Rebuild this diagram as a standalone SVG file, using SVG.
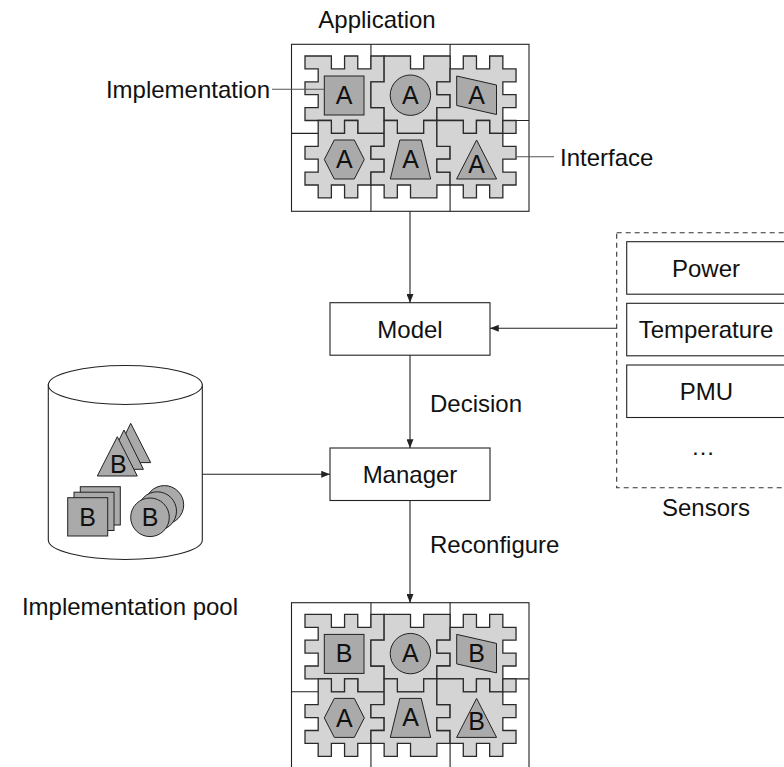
<svg xmlns="http://www.w3.org/2000/svg" xmlns:xlink="http://www.w3.org/1999/xlink" width="784" height="767" viewBox="0 0 784 767">
  <style>
    text { font-family: "Liberation Sans", Arial, sans-serif; font-size: 24px; fill: #111; }
    .mid { text-anchor: middle; }
    .letter { font-size: 25px; text-anchor: middle; }
    .box { fill: #fff; stroke: #222; stroke-width: 1.1; }
    .frame { fill: #fff; stroke: #222; stroke-width: 1.1; }
    .gridline { fill: none; stroke: #222; stroke-width: 1.1; }
    .piece { fill: #d4d4d4; stroke: #2a2a2a; stroke-width: 1.3; stroke-linejoin: miter; }
    .shape { fill: #aaaaaa; stroke: #222; stroke-width: 1; }
    .edge { fill: none; stroke: #222; stroke-width: 1.1; marker-end: url(#arrow); }
    .leader { fill: none; stroke: #555; stroke-width: 1.1; }
    .dashed { fill: none; stroke: #333; stroke-width: 1.1; stroke-dasharray: 5 4; }
  </style>
  <defs>
    <marker id="arrow" viewBox="0 0 10 8" refX="10" refY="4" markerWidth="9" markerHeight="7" markerUnits="userSpaceOnUse" orient="auto">
      <path d="M0,0 L10,4 L0,8 Z" fill="#222"/>
    </marker>
    <!-- tile frame and six interlocking jigsaw pieces; piece outlines are on a 16x11 cell grid -->
    <g id="puzzle">
      <rect class="frame" x="291.5" y="44.3" width="237.5" height="167"/>
      <path class="gridline" d="M370.95,44.3 V211.3 M450.09,44.3 V211.3 M291.5,133.4 H370.95 M450.09,120.5 H529"/>
      <g transform="translate(305,56) scale(13.19,12.9)">
        <path class="piece" vector-effect="non-scaling-stroke" d="M0,0 H2 V1 H3 V0 H4 V1 H5 V0 H6 V2 H5 V4 H6 V6 H4 V5 H3 V6 H2 V5 H0 V4 H1 V3 H0 V2 H1 V1 H0 Z"/>
        <path class="piece" vector-effect="non-scaling-stroke" d="M6,0 H8 V1 H9 V0 H11 V2 H10 V3 H11 V4 H10 V5 H9 V6 H7 V5 H6 V4 H5 V2 H6 Z"/>
        <path class="piece" vector-effect="non-scaling-stroke" d="M11,1 H12 V0 H13 V1 H14 V0 H15 V1 H16 V2 H15 V3 H16 V4 H15 V6 H14 V5 H13 V6 H12 V5 H10 V4 H11 V3 H10 V2 H11 Z"/>
        <path class="piece" vector-effect="non-scaling-stroke" d="M1,5 H2 V6 H3 V5 H4 V6 H6 V7 H5 V8 H6 V9 H5 V10 H4 V11 H3 V10 H2 V11 H1 V10 H0 V9 H1 V8 H0 V7 H1 Z"/>
        <path class="piece" vector-effect="non-scaling-stroke" d="M6,5 H7 V6 H9 V5 H10 V7 H11 V8 H10 V9 H11 V10 H10 V11 H8 V10 H7 V11 H6 V10 H5 V9 H6 V8 H5 V7 H6 Z"/>
        <path class="piece" vector-effect="non-scaling-stroke" d="M10,5 H12 V6 H13 V5 H14 V6 H15 V5 H16 V6 H15 V7 H16 V8 H15 V9 H16 V10 H15 V11 H14 V10 H13 V11 H12 V10 H11 V9 H10 V8 H11 V7 H10 Z"/>
      </g>
    </g>
    <!-- module outlines placed on the six pieces -->
    <g id="modules">
      <rect class="shape" x="324.3" y="76" width="39.7" height="39"/>
      <circle class="shape" cx="410.4" cy="95.2" r="20.2"/>
      <polygon class="shape" points="456.7,76 496.5,85 496.5,114.5 456.7,105.5"/>
      <polygon class="shape" points="324.3,159.5 334.3,140 354.3,140 364.3,159.5 354.3,179 334.3,179"/>
      <polygon class="shape" points="399.8,140 421.2,140 430.7,179 390.3,179"/>
      <polygon class="shape" points="476.6,140 496.6,179 456.6,179"/>
    </g>
  </defs>

  <!-- application before reconfiguration -->
  <g id="application">
    <text class="mid" x="377" y="28">Application</text>
    <use xlink:href="#puzzle" href="#puzzle"/>
    <use xlink:href="#modules" href="#modules"/>
    <text class="letter" x="344.2" y="103.5">A</text>
    <text class="letter" x="410.4" y="103.5">A</text>
    <text class="letter" x="476.6" y="103.5">A</text>
    <text class="letter" x="344.3" y="168.3">A</text>
    <text class="letter" x="410.5" y="168">A</text>
    <text class="letter" x="476.6" y="172.5">A</text>
    <line class="leader" x1="272" y1="89.3" x2="324.3" y2="89.3"/>
    <text x="270" y="97.5" text-anchor="end">Implementation</text>
    <line class="leader" x1="516" y1="156.7" x2="554" y2="156.7"/>
    <text x="560" y="165.5">Interface</text>
  </g>

  <!-- model -->
  <g id="model">
    <rect class="box" x="330" y="302.7" width="160" height="52.5"/>
    <text class="mid" x="410" y="337.5">Model</text>
  </g>

  <!-- manager -->
  <g id="manager">
    <rect class="box" x="330" y="448" width="160" height="52.5"/>
    <text class="mid" x="410" y="482.8">Manager</text>
  </g>

  <!-- implementation pool (cylinder) -->
  <g id="implementation-pool">
    <path class="box" d="M48.3,385 V540 A77,19.5 0 0 0 202.3,540 V385 Z"/>
    <ellipse class="box" cx="125.3" cy="385" rx="77" ry="19.5"/>
    <polygon class="shape" points="130.7,423.3 150.7,462.6 111.7,462.6"/>
    <polygon class="shape" points="124,430 143.4,469.3 104.4,469.3"/>
    <polygon class="shape" points="117.3,436.7 137.3,476 97.3,476"/>
    <text class="letter" x="118.3" y="472.5">B</text>
    <rect class="shape" x="80.3" y="486.7" width="40" height="38.3"/>
    <rect class="shape" x="74" y="492.2" width="40" height="38.3"/>
    <rect class="shape" x="67.7" y="497.7" width="40" height="38.3"/>
    <text class="letter" x="87.7" y="525.5">B</text>
    <circle class="shape" cx="164.4" cy="504.9" r="19.3"/>
    <circle class="shape" cx="157.2" cy="511.1" r="19.3"/>
    <circle class="shape" cx="150" cy="517.3" r="19.3"/>
    <text class="letter" x="150" y="526">B</text>
    <text class="mid" x="130" y="615">Implementation pool</text>
  </g>

  <!-- sensors -->
  <g id="sensors">
    <rect class="dashed" x="616.7" y="232.7" width="180" height="255"/>
    <rect class="box" x="626.7" y="241.7" width="160" height="52.5"/>
    <text class="mid" x="706" y="276.8">Power</text>
    <rect class="box" x="626.7" y="303.3" width="160" height="52.5"/>
    <text class="mid" x="706" y="337.5">Temperature</text>
    <rect class="box" x="626.7" y="365" width="160" height="52.5"/>
    <text class="mid" x="706.5" y="399.5">PMU</text>
    <text class="mid" x="703" y="455">…</text>
    <text class="mid" x="706" y="515.5">Sensors</text>
  </g>

  <!-- application after reconfiguration -->
  <g id="reconfigured-application" transform="translate(0,558.4)">
    <use xlink:href="#puzzle" href="#puzzle"/>
    <use xlink:href="#modules" href="#modules"/>
    <text class="letter" x="344.2" y="103.8">B</text>
    <text class="letter" x="410.4" y="103.5">A</text>
    <text class="letter" x="476.6" y="103.8">B</text>
    <text class="letter" x="344.3" y="168.3">A</text>
    <text class="letter" x="410.5" y="168">A</text>
    <text class="letter" x="476.6" y="171.5">B</text>
  </g>

  <!-- connectors -->
  <g id="connectors">
    <line class="edge" x1="410" y1="211.3" x2="410" y2="302.7"/>
    <line class="edge" x1="616.7" y1="328.3" x2="490" y2="328.3"/>
    <line class="edge" x1="410" y1="355.2" x2="410" y2="448"/>
    <text x="430" y="412">Decision</text>
    <line class="edge" x1="202.3" y1="474.3" x2="330" y2="474.3"/>
    <line class="edge" x1="410" y1="500.5" x2="410" y2="602.7"/>
    <text x="430" y="553">Reconfigure</text>
  </g>
</svg>
